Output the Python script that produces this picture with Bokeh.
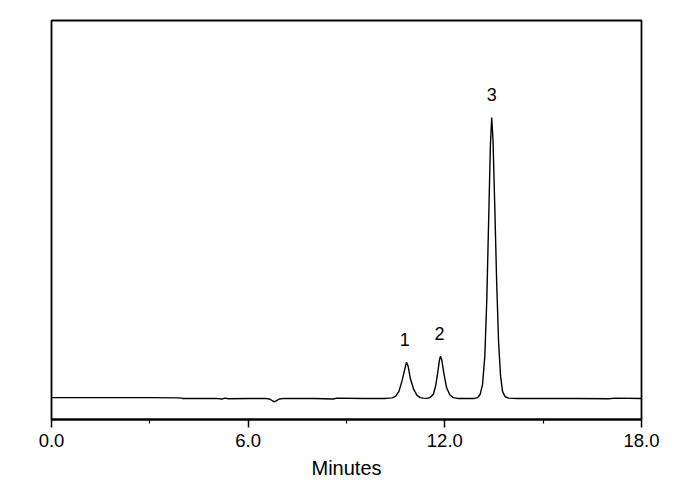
from bokeh.plotting import figure
from bokeh.models import FixedTicker, Range1d, ColumnDataSource
from bokeh.embed import file_html
from bokeh.resources import INLINE
from bokeh.core.properties import value

# Chromatogram trace (time in minutes, signal in relative units)
time_min = [0.0, 1.0, 2.0, 3.0, 3.9, 4.0, 5.0, 5.2, 5.3, 5.4, 6.0, 6.5, 6.65, 6.8, 6.95, 7.1,
            8.0, 8.6, 8.7, 9.5, 10.2, 10.4, 10.5, 10.6, 10.7, 10.78, 10.83, 10.88, 10.95,
            11.05, 11.15, 11.25, 11.35, 11.45, 11.55, 11.65, 11.72, 11.78, 11.84, 11.87,
            11.91, 11.97, 12.05, 12.15, 12.25, 12.4, 12.9, 13.0, 13.08, 13.15, 13.22, 13.28,
            13.34, 13.39, 13.43, 13.47, 13.52, 13.58, 13.64, 13.70, 13.76, 13.84, 13.95,
            14.2, 16.0, 17.0, 17.2, 18.0]
signal = [0.3, 0.3, 0.3, 0.3, 0.2, 0.0, 0.0, -0.2, 0.1, -0.1, 0.0, 0.0, -0.2, -1.2, -0.2, 0.0,
          0.0, -0.2, 0.1, 0.0, 0.0, 0.2, 0.8, 2.5, 6.5, 10.5, 12.9, 11.5, 7.0,
          3.2, 1.1, 0.3, 0.1, 0.0, 0.3, 1.5, 4.5, 9.0, 14.0, 15.0,
          13.5, 9.0, 4.0, 1.3, 0.3, 0.0, 0.0, 0.3, 1.5, 5.0, 15.0, 35.0,
          65.0, 90.0, 100.0, 92.0, 70.0, 42.0, 20.0, 8.0, 2.5, 0.6, 0.1,
          0.0, 0.0, -0.1, 0.1, 0.0]

# Peak labels
peak_names = ["1", "2", "3"]
peak_times = [10.78, 11.84, 13.43]
peak_heights = [12.9, 15.0, 100.0]

# Axis ticks
major_ticks = [0, 6, 12, 18]
minor_ticks = [3, 9, 15]
tick_labels = ["0.0", "6.0", "12.0", "18.0"]

p = figure(width=680, height=481, output_backend="svg", toolbar_location=None,
           x_range=Range1d(0, 18), y_range=Range1d(-7.5, 134.5),
           min_border_left=51, min_border_right=39, min_border_top=20, min_border_bottom=62)

p.line(time_min, signal, line_color="black", line_width=1.4)

lab = ColumnDataSource(dict(x=peak_times, y=peak_heights, t=peak_names))
p.text(x="x", y="y", text="t", source=lab, text_align="center", text_baseline="middle",
       y_offset=-23,
       text_font=value("Liberation Sans"), text_font_size="18px", text_color="black")

p.grid.visible = False
p.yaxis.visible = False
p.outline_line_color = "black"
p.outline_line_width = 1.8
p.outline_line_alpha = 1.0
p.background_fill_color = "white"
p.border_fill_color = "white"

xa = p.xaxis[0]
xa.ticker = FixedTicker(ticks=major_ticks, minor_ticks=minor_ticks)
xa.major_label_overrides = {t: l for t, l in zip(major_ticks, tick_labels)}
xa.axis_label = "Minutes"
xa.axis_label_text_font = "Liberation Sans"
xa.axis_label_text_font_style = "normal"
xa.axis_label_text_font_size = "20px"
xa.axis_label_text_color = "black"
xa.axis_label_standoff = 7
xa.major_label_text_font = "Liberation Sans"
xa.major_label_text_font_size = "18.5px"
xa.major_label_text_color = "black"
xa.major_label_standoff = 6
xa.axis_line_color = "black"
xa.axis_line_width = 1.8
xa.major_tick_line_color = "black"
xa.major_tick_line_width = 1.5
xa.major_tick_out = 8
xa.major_tick_in = 0
xa.minor_tick_line_color = "black"
xa.minor_tick_line_width = 1.2
xa.minor_tick_out = 4
xa.minor_tick_in = 0

open("out.html", "w").write(file_html(p, INLINE))
